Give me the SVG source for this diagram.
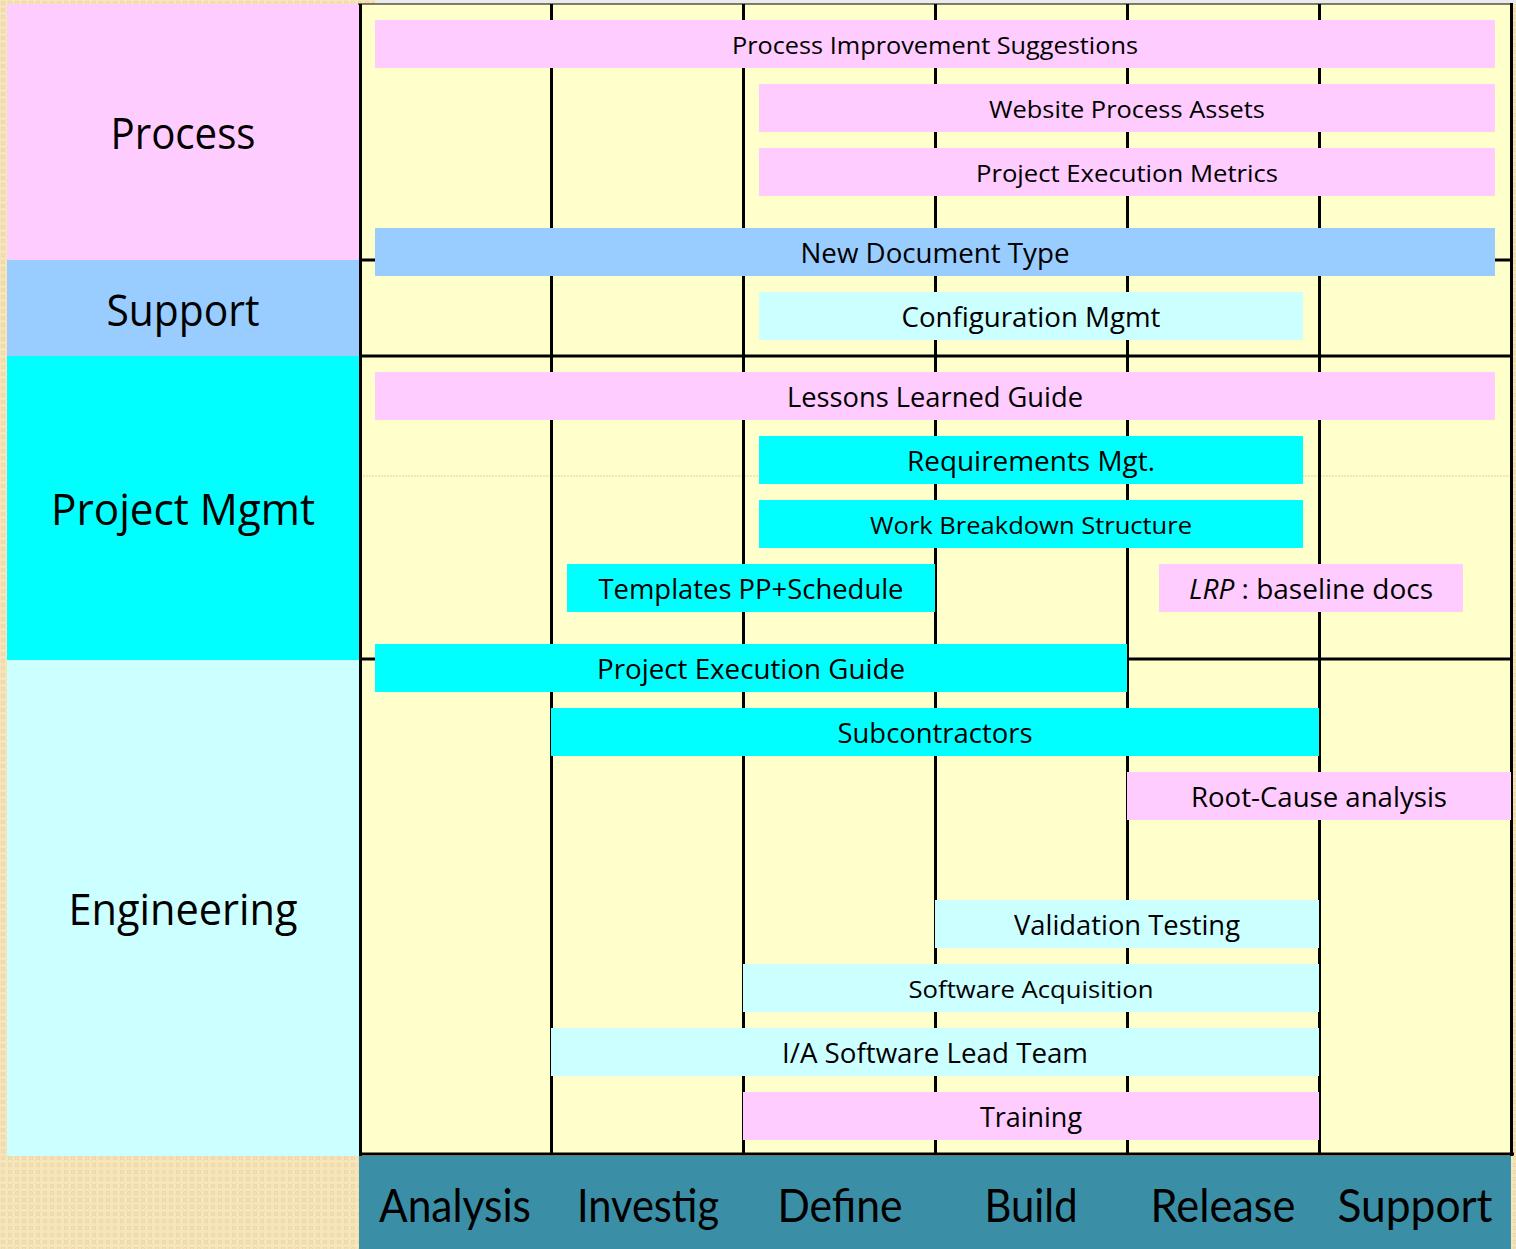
<svg xmlns="http://www.w3.org/2000/svg" width="1516" height="1249" viewBox="0 0 1516 1249">
<style>
.t{font-family:"Open Sans","Liberation Sans",sans-serif;fill:#000;text-anchor:middle}
.s{font-size:24px}
.m{font-size:27px}
.lbl{font-family:"Open Sans","Liberation Sans",sans-serif;font-size:44px;fill:#000;text-anchor:middle}
.ph{font-family:"Lato","Liberation Sans",sans-serif;font-size:46px;fill:#000;text-anchor:middle}
.pk{fill:#ffccff}.bl{fill:#99ccff}.cy{fill:#00ffff}.lc{fill:#ccffff}
.g{stroke:#000;stroke-width:3;fill:none}
</style>
<defs>
<pattern id="tex" width="7" height="7" patternUnits="userSpaceOnUse">
<rect width="7" height="7" fill="#f6e4bb"/>
<rect x="1" y="1" width="4" height="4" fill="#ecd8a9"/>
<rect x="2" y="2" width="2" height="2" fill="#f3e0b4"/>
</pattern>
</defs>
<rect width="1516" height="1249" fill="url(#tex)"/>
<rect x="375" y="0" width="1141" height="4" fill="#ebebeb"/>
<rect x="360" y="4" width="1152" height="1150" fill="#ffffcc"/>
<line x1="360" y1="476" x2="1511" y2="476" stroke="#e3cfa8" stroke-width="1" stroke-dasharray="2 1"/>
<g id="row-process"><rect x="7" y="4" width="352" height="256" class="pk"/><text class="lbl" x="183" y="149" textLength="145" lengthAdjust="spacingAndGlyphs">Process</text></g>
<g id="row-support"><rect x="7" y="260" width="352" height="96" class="bl"/><text class="lbl" x="183" y="326" textLength="153" lengthAdjust="spacingAndGlyphs">Support</text></g>
<g id="row-pm"><rect x="7" y="356" width="352" height="304" class="cy"/><text class="lbl" x="183" y="525" textLength="264" lengthAdjust="spacingAndGlyphs">Project Mgmt</text></g>
<g id="row-eng"><rect x="7" y="660" width="352" height="496" class="lc"/><text class="lbl" x="183" y="925" textLength="229" lengthAdjust="spacingAndGlyphs">Engineering</text></g>
<g id="connectors">
<line class="g" x1="360.5" y1="4" x2="360.5" y2="1156"/>
<line class="g" x1="551.5" y1="4" x2="551.5" y2="1154"/>
<line class="g" x1="743.5" y1="4" x2="743.5" y2="1154"/>
<line class="g" x1="935.5" y1="4" x2="935.5" y2="1154"/>
<line class="g" x1="1127.5" y1="4" x2="1127.5" y2="1154"/>
<line class="g" x1="1319.5" y1="4" x2="1319.5" y2="1154"/>
<line class="g" x1="1511.5" y1="3" x2="1511.5" y2="1156"/>
<line stroke="#000" stroke-width="1" x1="358" y1="4" x2="1513" y2="4"/>
<line class="g" x1="359" y1="260" x2="1513" y2="260"/>
<line class="g" x1="359" y1="356" x2="1513" y2="356"/>
<line class="g" x1="359" y1="659" x2="380" y2="659"/>
<line class="g" x1="1127" y1="659" x2="1513" y2="659"/>
<line class="g" x1="359" y1="1154" x2="1514" y2="1154"/>
</g>
<g id="n1"><rect x="375" y="20" width="1120" height="48" class="pk"/><text class="t s" x="935" y="54" textLength="406" lengthAdjust="spacingAndGlyphs">Process Improvement Suggestions</text></g>
<g id="n2"><rect x="759" y="84" width="736" height="48" class="pk"/><text class="t s" x="1127" y="118" textLength="276" lengthAdjust="spacingAndGlyphs">Website Process Assets</text></g>
<g id="n3"><rect x="759" y="148" width="736" height="48" class="pk"/><text class="t s" x="1127" y="182" textLength="302" lengthAdjust="spacingAndGlyphs">Project Execution Metrics</text></g>
<g id="n4"><rect x="375" y="228" width="1120" height="48" class="bl"/><text class="t m" x="935" y="263" textLength="269" lengthAdjust="spacingAndGlyphs">New Document Type</text></g>
<g id="n5"><rect x="759" y="292" width="544" height="48" class="lc"/><text class="t m" x="1031" y="327" textLength="259" lengthAdjust="spacingAndGlyphs">Configuration Mgmt</text></g>
<g id="n6"><rect x="375" y="372" width="1120" height="48" class="pk"/><text class="t m" x="935" y="407" textLength="296" lengthAdjust="spacingAndGlyphs">Lessons Learned Guide</text></g>
<g id="n7"><rect x="759" y="436" width="544" height="48" class="cy"/><text class="t m" x="1031" y="471" textLength="248" lengthAdjust="spacingAndGlyphs">Requirements Mgt.</text></g>
<g id="n8"><rect x="759" y="500" width="544" height="48" class="cy"/><text class="t s" x="1031" y="534" textLength="322" lengthAdjust="spacingAndGlyphs">Work Breakdown Structure</text></g>
<g id="n9"><rect x="567" y="564" width="368" height="48" class="cy"/><text class="t m" x="751" y="599" textLength="305" lengthAdjust="spacingAndGlyphs">Templates PP+Schedule</text></g>
<g id="n10"><rect x="1159" y="564" width="304" height="48" class="pk"/><text class="t m" x="1311" y="599" textLength="244" lengthAdjust="spacingAndGlyphs"><tspan font-style="italic">LRP</tspan> : baseline docs</text></g>
<g id="n11"><rect x="375" y="644" width="752" height="48" class="cy"/><text class="t m" x="751" y="679" textLength="308" lengthAdjust="spacingAndGlyphs">Project Execution Guide</text></g>
<g id="n12"><rect x="551" y="708" width="768" height="48" class="cy"/><text class="t m" x="935" y="743" textLength="195" lengthAdjust="spacingAndGlyphs">Subcontractors</text></g>
<g id="n13"><rect x="1127" y="772" width="384" height="48" class="pk"/><text class="t m" x="1319" y="807" textLength="256" lengthAdjust="spacingAndGlyphs">Root-Cause analysis</text></g>
<g id="n14"><rect x="935" y="900" width="384" height="48" class="lc"/><text class="t m" x="1127" y="935" textLength="226" lengthAdjust="spacingAndGlyphs">Validation Testing</text></g>
<g id="n15"><rect x="743" y="964" width="576" height="48" class="lc"/><text class="t s" x="1031" y="998" textLength="245" lengthAdjust="spacingAndGlyphs">Software Acquisition</text></g>
<g id="n16"><rect x="551" y="1028" width="768" height="48" class="lc"/><text class="t m" x="935" y="1063" textLength="306" lengthAdjust="spacingAndGlyphs">I/A Software Lead Team</text></g>
<g id="n17"><rect x="743" y="1092" width="576" height="48" class="pk"/><text class="t m" x="1031" y="1127" textLength="102" lengthAdjust="spacingAndGlyphs">Training</text></g>
<g id="phases">
<rect x="359" y="1156" width="1152" height="93" fill="#3a8fa6"/>
<text class="ph" x="455" y="1222" textLength="152" lengthAdjust="spacingAndGlyphs">Analysis</text>
<text class="ph" x="648" y="1222" textLength="142" lengthAdjust="spacingAndGlyphs">Investig</text>
<text class="ph" x="840" y="1222" textLength="125" lengthAdjust="spacingAndGlyphs">Define</text>
<text class="ph" x="1031" y="1222" textLength="93" lengthAdjust="spacingAndGlyphs">Build</text>
<text class="ph" x="1223" y="1222" textLength="145" lengthAdjust="spacingAndGlyphs">Release</text>
<text class="ph" x="1415" y="1222" textLength="155" lengthAdjust="spacingAndGlyphs">Support</text>
</g>
</svg>
